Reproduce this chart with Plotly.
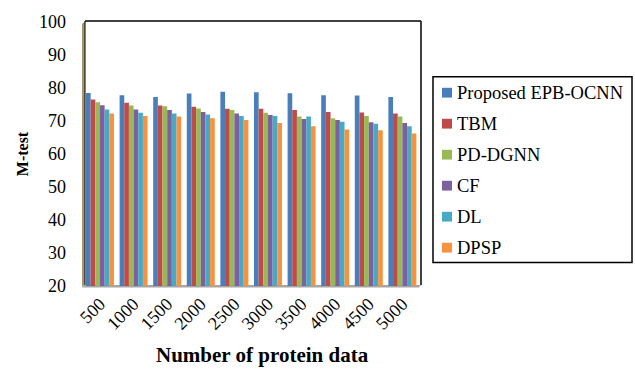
import plotly.graph_objects as go

# Data
categories = ["500", "1000", "1500", "2000", "2500", "3000", "3500", "4000", "4500", "5000"]
series_names = ["Proposed EPB-OCNN", "TBM", "PD-DGNN", "CF", "DL", "DPSP"]
proposed = [78.5, 77.8, 77.3, 78.3, 78.9, 78.7, 78.4, 77.8, 77.7, 77.3]
tbm = [76.5, 75.5, 74.7, 74.3, 73.7, 73.7, 73.3, 72.7, 72.6, 72.3]
pd_dgnn = [75.7, 74.7, 74.5, 73.8, 73.3, 72.5, 71.4, 70.8, 71.5, 71.4]
cf = [74.8, 73.5, 73.3, 72.7, 72.3, 71.8, 70.6, 70.3, 69.6, 69.4]
dl = [73.5, 72.5, 72.3, 72.0, 71.5, 71.5, 71.4, 69.8, 69.2, 68.4]
dpsp = [72.3, 71.5, 71.4, 70.8, 70.3, 69.4, 68.4, 67.4, 67.2, 66.2]
series_values = [proposed, tbm, pd_dgnn, cf, dl, dpsp]
colors = ["#4A7EBB", "#BE4B48", "#98B954", "#7D60A0", "#46AAC5", "#F69240"]

FONT = "Liberation Serif, Times New Roman, serif"
W, H = 635, 372
L, R, T, B = 85, 214, 16, 86
PW, PH = W - L - R, H - T - B


def px_x(px):
    return (px - L) / PW


def px_y(py):
    return (T + PH - py) / PH


fig = go.Figure()
for name, vals, col in zip(series_names, series_values, colors):
    fig.add_trace(go.Bar(x=categories, y=vals, name=name,
                         marker=dict(color=col, line=dict(width=0)),
                         showlegend=False))

shapes = []
# side wall, floor and frame
shapes.append(dict(type="path", xref="paper", yref="paper",
                   path=f"M {px_x(82)},{px_y(287)} L {px_x(82)},{px_y(18)} L {px_x(85)},{px_y(15)} L {px_x(85)},{px_y(285)} Z",
                   fillcolor="#A39473", line=dict(width=0), layer="below"))
shapes.append(dict(type="path", xref="paper", yref="paper",
                   path=f"M {px_x(82)},{px_y(287.5)} L {px_x(419)},{px_y(287.5)} L {px_x(421)},{px_y(285)} L {px_x(85)},{px_y(285)} Z",
                   fillcolor="#A6A6A6", line=dict(width=0), layer="below"))
shapes.append(dict(type="line", xref="paper", yref="paper",
                   x0=px_x(85), x1=px_x(421), y0=px_y(15), y1=px_y(15),
                   line=dict(color="black", width=1.5)))
shapes.append(dict(type="line", xref="paper", yref="paper",
                   x0=px_x(421), x1=px_x(421), y0=px_y(15), y1=px_y(285),
                   line=dict(color="black", width=1.5)))
shapes.append(dict(type="line", xref="paper", yref="paper",
                   x0=px_x(85), x1=px_x(85), y0=px_y(15), y1=px_y(285),
                   line=dict(color="black", width=1), layer="below"))

# legend box
shapes.append(dict(type="rect", xref="paper", yref="paper",
                   x0=px_x(433), x1=px_x(632), y0=px_y(262), y1=px_y(72),
                   line=dict(color="black", width=1.5), fillcolor="white"))
annotations = []
for i, (name, col) in enumerate(zip(series_names, colors)):
    cy = 88.3 + i * 31.7
    shapes.append(dict(type="rect", xref="paper", yref="paper",
                       x0=px_x(442), x1=px_x(452), y0=px_y(cy + 5), y1=px_y(cy - 5),
                       fillcolor=col, line=dict(width=0)))
    annotations.append(dict(xref="paper", yref="paper", x=px_x(455), y=px_y(cy),
                            text=name, showarrow=False, xanchor="left", yanchor="middle",
                            font=dict(family=FONT, size=18.5, color="black")))

# x-axis title
annotations.append(dict(xref="paper", yref="paper", x=px_x(262), y=px_y(357),
                        text="<b>Number of protein data</b>", showarrow=False,
                        xanchor="center", yanchor="middle",
                        font=dict(family=FONT, size=21, color="black")))

fig.update_layout(
    width=W, height=H,
    margin=dict(l=L, r=R, t=T, b=B),
    paper_bgcolor="white", plot_bgcolor="white",
    barmode="group", bargap=0.167, bargroupgap=0,
    font=dict(family=FONT, size=18, color="black"),
    shapes=shapes, annotations=annotations,
    xaxis=dict(type="category", range=[-0.446, 9.554], tickangle=-45,
               showgrid=False, showline=False, zeroline=False, ticks="",
               ticklabelstandoff=3,
               tickfont=dict(family=FONT, size=18)),
    yaxis=dict(range=[20, 100], dtick=10, showgrid=False, showline=False, zeroline=False,
               ticks="", ticklabelstandoff=18,
               tickfont=dict(family=FONT, size=18),
               title=dict(text="<b>M-test</b>", font=dict(family=FONT, size=16), standoff=6)),
)

fig.write_html("out.html")
